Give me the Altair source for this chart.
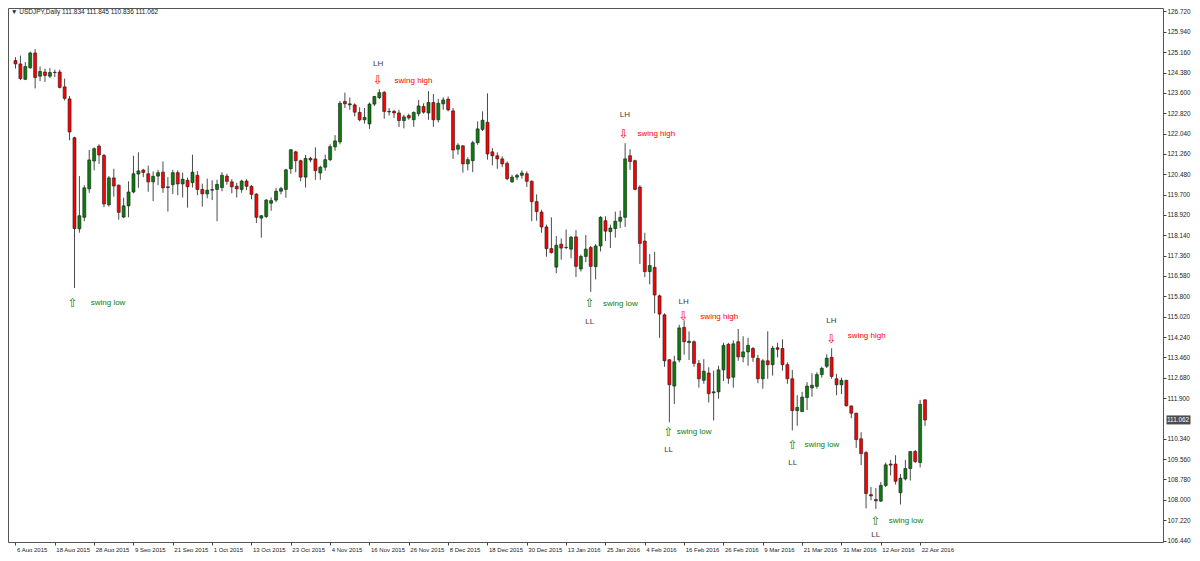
import altair as alt
import pandas as pd

# ---- daily candles USDJPY, bar index 0 = 6 Aug 2015 ----
opens = [124.84, 124.71, 124.12, 124.56, 125.13, 124.24, 124.40, 124.24, 124.39, 124.40,
         123.83, 123.37, 121.88, 118.39, 118.83, 119.92, 120.99, 121.56, 121.20, 119.31,
         120.34, 120.06, 118.84, 119.27, 119.80, 120.49, 120.64, 120.50, 120.19, 120.41,
         120.56, 120.00, 120.08, 120.54, 120.11, 120.25, 120.16, 120.44, 119.90, 119.73,
         119.87, 119.90, 119.97, 120.41, 120.19, 120.02, 119.90, 120.22, 120.02, 119.72,
         118.80, 118.86, 119.37, 119.49, 119.83, 119.90, 120.69, 121.34, 121.00, 120.37,
         121.09, 121.07, 120.53, 120.75, 121.04, 121.53, 121.72, 123.27, 123.14, 123.14,
         122.85, 122.57, 122.41, 123.17, 123.42, 123.62, 122.89, 122.89, 122.83, 122.54,
         122.73, 122.57, 122.80, 123.08, 122.83, 123.23, 122.57, 123.18, 123.36, 122.91,
         121.44, 121.57, 120.88, 121.00, 121.69, 122.20, 122.47, 121.34, 121.19, 121.07,
         120.90, 120.19, 120.37, 120.44, 120.50, 120.21, 119.43, 119.03, 118.46, 117.63,
         116.92, 117.80, 117.67, 117.61, 118.08, 116.85, 117.33, 117.67, 116.94, 117.73,
         118.70, 118.28, 118.40, 118.68, 118.83, 121.19, 121.00, 119.99, 117.92, 116.75,
         116.91, 115.82, 115.09, 113.37, 112.36, 113.36, 114.61, 114.03, 114.06, 113.23,
         112.58, 112.86, 112.10, 112.14, 112.98, 113.96, 112.70, 114.06, 113.48, 113.67,
         113.80, 113.42, 112.64, 113.33, 113.18, 113.83, 113.80, 113.18, 112.64, 111.42,
         111.38, 111.92, 112.29, 112.35, 112.80, 113.12, 113.46, 112.64, 112.41, 112.58,
         111.60, 111.32, 110.34, 109.81, 108.20, 108.01, 107.95, 108.55, 109.37, 109.37,
         108.27, 108.80, 109.20, 109.85, 109.43, 111.834]
highs = [124.97, 125.03, 124.78, 125.18, 125.28, 124.61, 124.53, 124.55, 124.49, 124.49,
         124.15, 123.48, 121.92, 120.41, 120.06, 121.41, 121.51, 121.63, 121.26, 120.41,
         120.69, 120.09, 119.58, 120.21, 121.19, 121.32, 120.69, 120.81, 120.59, 120.65,
         120.97, 120.37, 120.65, 120.63, 120.54, 120.35, 121.23, 120.60, 120.12, 120.31,
         120.25, 120.27, 120.56, 120.50, 120.29, 120.15, 120.27, 120.29, 120.06, 119.75,
         118.92, 119.53, 119.59, 119.96, 120.00, 120.69, 121.44, 121.38, 121.04, 121.22,
         121.15, 121.51, 120.81, 121.23, 121.63, 121.98, 123.29, 123.61, 123.42, 123.20,
         123.05, 123.02, 123.23, 123.49, 123.74, 123.67, 123.02, 122.95, 122.95, 122.76,
         122.80, 122.89, 123.33, 123.20, 123.67, 123.56, 123.37, 123.43, 123.46, 123.02,
         121.67, 121.59, 121.13, 121.76, 122.51, 122.89, 123.58, 121.48, 121.32, 121.17,
         120.97, 120.46, 120.50, 120.63, 120.59, 120.25, 119.71, 119.12, 118.55, 118.83,
         118.11, 118.02, 118.36, 118.11, 118.34, 117.40, 118.15, 117.73, 117.80, 118.87,
         118.87, 118.55, 119.05, 119.09, 121.67, 121.44, 121.04, 120.06, 118.24, 117.42,
         117.51, 115.87, 115.15, 113.39, 113.52, 114.71, 114.88, 114.46, 114.11, 113.36,
         113.39, 113.08, 112.95, 113.14, 114.02, 114.02, 114.11, 114.55, 114.27, 114.21,
         113.86, 113.56, 113.39, 114.46, 113.90, 114.02, 114.15, 113.27, 112.98, 112.01,
         112.14, 112.51, 112.85, 112.89, 113.10, 113.58, 113.81, 112.83, 112.68, 112.60,
         111.61, 111.34, 110.59, 109.87, 108.49, 108.45, 108.68, 109.43, 109.53, 109.71,
         108.99, 109.53, 109.87, 109.91, 111.83, 111.845]
lows = [124.53, 124.09, 124.09, 124.53, 123.77, 124.05, 124.02, 124.17, 124.21, 123.77,
        123.31, 121.78, 116.12, 118.24, 118.68, 119.77, 120.63, 120.88, 119.22, 119.24,
        119.62, 118.74, 118.80, 118.83, 119.75, 119.96, 120.37, 119.81, 119.45, 120.06,
        119.77, 119.05, 119.72, 119.68, 119.59, 119.20, 119.97, 119.68, 119.24, 119.56,
        119.49, 118.68, 119.83, 120.08, 119.75, 119.59, 119.77, 119.87, 119.52, 118.61,
        118.05, 118.80, 119.08, 119.41, 119.71, 119.58, 120.50, 120.56, 120.21, 119.97,
        120.94, 120.27, 120.27, 120.62, 120.98, 121.38, 121.63, 123.02, 122.95, 122.70,
        122.51, 122.42, 122.22, 123.10, 123.36, 122.61, 122.73, 122.64, 122.29, 122.24,
        122.57, 122.30, 122.70, 122.80, 122.57, 122.30, 122.47, 122.95, 122.89, 121.07,
        121.23, 120.54, 120.63, 120.56, 121.61, 122.14, 121.04, 120.82, 120.69, 120.75,
        120.25, 120.15, 120.25, 120.31, 119.99, 118.68, 118.70, 118.24, 117.32, 117.44,
        116.69, 117.21, 117.61, 117.26, 116.54, 116.75, 117.11, 115.97, 116.45, 117.52,
        117.92, 117.65, 118.05, 118.42, 118.46, 120.65, 119.87, 117.04, 116.54, 116.26,
        115.15, 114.21, 113.10, 110.97, 111.67, 113.27, 113.56, 113.36, 113.10, 112.30,
        112.45, 111.73, 111.04, 111.88, 112.55, 112.45, 112.30, 113.33, 113.27, 113.14,
        113.29, 112.47, 112.26, 112.64, 112.76, 113.46, 112.95, 112.45, 110.66, 110.84,
        111.37, 111.44, 111.95, 112.26, 112.68, 113.05, 112.64, 112.01, 112.05, 111.57,
        111.13, 109.99, 109.33, 107.67, 107.98, 107.65, 107.92, 108.49, 108.93, 108.59,
        107.82, 108.74, 108.74, 109.41, 109.24, 110.836]
closes = [124.71, 124.15, 124.61, 125.13, 124.19, 124.42, 124.27, 124.38, 124.38, 123.81,
          123.39, 122.10, 118.40, 118.89, 119.96, 121.03, 121.46, 121.22, 119.34, 120.34,
          120.03, 119.02, 119.27, 119.80, 120.50, 120.61, 120.55, 120.19, 120.40, 120.54,
          119.96, 119.97, 120.54, 120.11, 120.29, 120.00, 120.56, 119.90, 119.73, 119.87,
          119.89, 120.09, 120.44, 120.21, 120.00, 119.92, 120.22, 120.02, 119.71, 118.83,
          118.89, 119.49, 119.47, 119.83, 119.93, 120.65, 121.42, 121.00, 120.37, 121.09,
          121.03, 120.62, 120.75, 121.04, 121.54, 121.76, 123.20, 123.18, 123.18, 122.86,
          122.57, 122.66, 123.17, 123.46, 123.61, 122.89, 122.87, 122.83, 122.54, 122.68,
          122.64, 122.85, 123.10, 122.86, 123.23, 122.57, 123.20, 123.33, 122.95, 121.41,
          121.59, 120.88, 121.04, 121.69, 122.22, 122.55, 121.26, 121.19, 121.07, 120.88,
          120.31, 120.37, 120.44, 120.53, 120.21, 119.43, 119.05, 118.46, 117.63, 117.48,
          117.76, 117.65, 117.68, 118.07, 116.95, 117.33, 117.61, 116.95, 117.73, 118.83,
          118.30, 118.42, 118.68, 118.83, 121.07, 120.97, 119.90, 117.83, 116.75, 116.98,
          115.85, 115.12, 113.33, 112.41, 113.29, 114.59, 114.06, 114.08, 113.23, 112.64,
          112.93, 112.07, 112.14, 112.98, 113.92, 112.66, 113.98, 113.48, 113.67, 113.92,
          113.46, 112.64, 113.33, 113.18, 113.81, 113.77, 113.18, 112.64, 111.42, 111.54,
          111.94, 112.36, 112.39, 112.80, 113.04, 113.43, 112.73, 112.41, 112.58, 111.61,
          111.32, 110.31, 109.77, 108.24, 108.15, 107.96, 108.55, 109.34, 109.33, 108.71,
          108.83, 109.20, 109.85, 109.47, 111.66, 111.062]

date_ticks = list(range(0, 185, 8))
date_labels = ['6 Aug 2015', '18 Aug 2015', '28 Aug 2015', '9 Sep 2015', '21 Sep 2015',
               '1 Oct 2015', '13 Oct 2015', '23 Oct 2015', '4 Nov 2015', '16 Nov 2015',
               '26 Nov 2015', '8 Dec 2015', '18 Dec 2015', '30 Dec 2015', '13 Jan 2016',
               '25 Jan 2016', '4 Feb 2016', '16 Feb 2016', '26 Feb 2016', '9 Mar 2016',
               '21 Mar 2016', '31 Mar 2016', '12 Apr 2016', '22 Apr 2016']
price_ticks = [106.44, 107.22, 108.00, 108.78, 109.56, 110.34, 111.90, 112.68,
               113.46, 114.24, 115.02, 115.80, 116.58, 117.36, 118.14, 118.92, 119.70,
               120.48, 121.26, 122.04, 122.82, 123.60, 124.38, 125.16, 125.94, 126.72]

title_text = "\u25bc  USDJPY,Daily  111.834 111.845 110.836 111.062"

# annotations (bar index, price)
arrow_glyph = ['\u21e7', '\u21e9', '\u21e9', '\u21e7', '\u21e9', '\u21e7', '\u21e9', '\u21e7', '\u21e7']
arrow_i = [11.64, 73.76, 123.7, 116.8, 135.9, 132.84, 165.96, 158.1, 174.96]
arrow_p = [115.56, 124.11, 122.01, 115.55, 115.04, 110.59, 114.17, 110.09, 107.19]

swing_text = ['swing low', 'swing high', 'swing high', 'swing low', 'swing high',
              'swing low', 'swing high', 'swing low', 'swing low']
swing_i = [15.3, 77.1, 126.5, 119.5, 139.3, 134.5, 169.3, 160.5, 177.6]
swing_p = [115.53, 124.06, 122.02, 115.51, 115.02, 110.61, 114.27, 110.10, 107.19]

lbl_text = ['LH', 'LH', 'LL', 'LH', 'LL', 'LH', 'LL', 'LL']
lbl_i = [73.76, 123.96, 116.8, 135.9, 132.84, 165.96, 158.1, 174.96]
lbl_p = [124.71, 122.765, 114.81, 115.57, 109.91, 114.84, 109.43, 106.66]

# ---- tables ----
n = len(opens)
df = pd.DataFrame({'i': list(range(n)), 'open': opens, 'high': highs,
                   'low': lows, 'close': closes})
df['dir'] = ['up' if c >= o else 'down' for o, c in zip(opens, closes)]

arrows = pd.DataFrame({'i': arrow_i, 'p': arrow_p, 't': arrow_glyph,
                       'k': ['low' if g == '\u21e7' else 'high' for g in arrow_glyph]})
swings = pd.DataFrame({'i': swing_i, 'p': swing_p, 't': swing_text,
                       'k': ['low' if 'low' in s else 'high' for s in swing_text]})
labels = pd.DataFrame({'i': lbl_i, 'p': lbl_p, 't': lbl_text})
last = pd.DataFrame({'p': [closes[-1]]})
ttl = pd.DataFrame({'t': [title_text]})

W, H = 1155, 534
FONT = 'Liberation Sans'

xscale = alt.Scale(domain=[-0.504, 232.38], nice=False, zero=False)
yscale = alt.Scale(domain=[106.3825, 126.854], nice=False, zero=False)
label_arr = "[" + ",".join("'%s'" % s for s in date_labels) + "]"
xaxis = alt.Axis(values=date_ticks, labelExpr=label_arr + "[round(datum.value/8)]",
                 title=None, grid=False, domain=False, tickSize=3, tickColor='#444',
                 labelAlign='left', labelBaseline='top', labelPadding=1, labelOffset=1,
                 labelFontSize=6, labelFont=FONT, labelColor='#222',
                 labelOverlap=False, labelFlush=False, labelBound=False)
yaxis = alt.Axis(orient='right', values=price_ticks, format='.3f', title=None, grid=False,
                 domain=False, tickSize=3, tickColor='#444', labelPadding=1,
                 labelFontSize=6.4, labelFont=FONT, labelColor='#222',
                 labelOverlap=False, labelFlush=False, labelBound=False)


def X(f='i'):
    return alt.X(f + ':Q', scale=xscale, axis=xaxis)


def Y(f):
    return alt.Y(f + ':Q', scale=yscale, axis=yaxis)


wicks = alt.Chart(df).mark_rule(color='#4a4a4a', strokeWidth=1).encode(
    x=X(), y=Y('low'), y2='high')
bodies = alt.Chart(df).mark_bar(size=3, stroke='#1a1a1a', strokeWidth=0.6).encode(
    x=X(), y=Y('open'), y2='close',
    color=alt.Color('dir:N', scale=alt.Scale(domain=['up', 'down'],
                                             range=['#0b7d0b', '#ff0000']), legend=None))

kcol = alt.Scale(domain=['low', 'high'], range=['#34a034', '#ff4848'])
arrow_layer = alt.Chart(arrows).mark_text(font='DejaVu Sans', fontSize=12,
                                          align='center', baseline='middle').encode(
    x=X(), y=Y('p'), text='t:N', color=alt.Color('k:N', scale=kcol, legend=None))
swing_layer = alt.Chart(swings).mark_text(font=FONT, fontSize=8,
                                          align='left', baseline='middle').encode(
    x=X(), y=Y('p'), text='t:N', color=alt.Color('k:N', scale=kcol, legend=None))
lbl_layer = alt.Chart(labels).mark_text(font=FONT, fontSize=8, color='#3a3a48',
                                        align='center', baseline='middle').encode(
    x=X(), y=Y('p'), text='t:N')

price_box = alt.Chart(last).mark_tick(orient='horizontal', color='#000', thickness=9,
                                      size=24).encode(x=alt.value(W + 15.5), y=Y('p'))
price_txt = alt.Chart(last).mark_text(font=FONT, fontSize=6.4, color='white',
                                      align='left', baseline='middle').encode(
    x=alt.value(W + 4), y=Y('p'), text=alt.Text('p:Q', format='.3f'))

title_layer = alt.Chart(ttl).mark_text(font=FONT, fontSize=6.5, color='#222',
                                       align='left', baseline='middle').encode(
    x=alt.value(3), y=alt.value(4), text='t:N')

chart = alt.layer(wicks, bodies, arrow_layer, swing_layer, lbl_layer,
                  price_box, price_txt, title_layer).properties(
    width=W, height=H, background='white', padding=0
).configure_view(stroke='#555', strokeWidth=1)

chart.save("out.html", embed_options={"renderer": "svg", "actions": False})
